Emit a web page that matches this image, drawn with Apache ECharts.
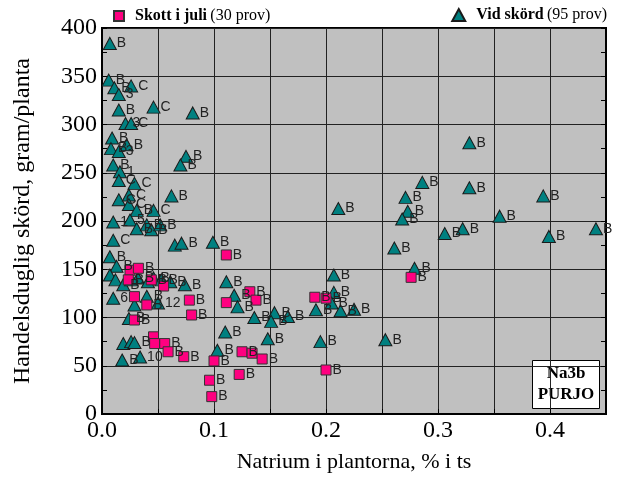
<!DOCTYPE html>
<html>
<head>
<meta charset="utf-8">
<script src="https://cdn.jsdelivr.net/npm/echarts@6/dist/echarts.min.js"></script>
<style>
html,body{margin:0;padding:0;background:#fff;}
#chart{width:619px;height:479px;}
</style>
</head>
<body>
<div id="chart"></div>
<script>
// Skott i juli (squares): [Na %, yield g/plant]
const skottX = [0.025,0.0325,0.0235,0.044,0.055,0.029,0.040,0.078,0.080,0.029,0.111,0.046,0.047,0.056,0.059,0.073,0.100,0.125,0.134,0.143,0.096,0.1225,0.098,0.111,0.132,0.1375,0.190,0.200,0.200,0.276];
const skottY = [149,151,139,139,132.6,121.6,113,118,102.6,97.4,164.8,80,73,73,64.5,59.4,55,64.5,63,57,35,41,18,115.4,126.7,118,121,120,45.6,141.6];
const skottLabels = ['','B','B','B','','','B','B','B','B','B','','','B','B','B','B','B','','B','B','B','B','','B','B','B','B','B','B'];

// Vid skörd (triangles)
const skordX = [0.007,0.006,0.011,0.026,0.015,0.015,0.046,0.081,0.021,0.026,0.009,0.008,0.022,0.015,0.075,0.070,0.010,0.016,0.015,0.029,0.062,0.015,0.024,0.024,0.031,0.046,0.010,0.025,0.031,0.040,0.044,0.052,0.010,0.065,0.071,0.099,0.007,0.013,0.007,0.012,0.019,0.026,0.032,0.041,0.046,0.053,0.061,0.074,0.010,0.029,0.050,0.040,0.024,0.110,0.019,0.026,0.029,0.018,0.034,0.103,0.211,0.207,0.111,0.118,0.121,0.136,0.154,0.151,0.166,0.207,0.205,0.191,0.213,0.225,0.148,0.195,0.253,0.328,0.286,0.328,0.394,0.271,0.273,0.268,0.355,0.306,0.322,0.441,0.399,0.261,0.279];
const skordY = [384,346,338,340,331,315,318,312,301,301,286,275,279,272,267,258,258,251,242,239,226,222,227,217,211,211,199,201,192,196,191,196,180,175,177,178,163,153,144,139,134,139,141,137,141,139,137,134,120,113,115,122,99,85,73,75,74,56,59,66,213,144,137,123,111,100,105,96,101,126,115,108,107,108.5,78,75,77,281,240,234.5,226,224.5,210,202,205,187,192,192,184,172,151];
const skordLabels = ['B','B','B','C','3','B','C','B','3','C','B','B','B','3','B','B','B','1','C','C','B','C','C','C','B','C','1','5','B','B','B','B','C','','B','B','B','B','','','B','','B','','B','B','B','B','6','','12','B','B','B','','','B','B','10','B','B','B','B','B','B','B','B','B','B','B','B','B','B','B','B','B','B','B','B','B','B','B','B','B','B','B','B','B','B','B','B'];

const xTickLabels = ['0.0','0.1','0.2','0.3','0.4'];
const yTickLabels = ['0','50','100','150','200','250','300','350','400'];

const serif = '"Liberation Serif","Times New Roman",serif';
const sans = '"Liberation Sans",Arial,sans-serif';

function toData(xs, ys, ls){
  return xs.map((x,i)=>({value:[x, ys[i]], label:{formatter: ls[i] || ''}}));
}

const legendRich = {
  s:{width:6,fontSize:16},
  b:{fontFamily:serif,fontWeight:'bold',fontSize:16,color:'#000'},
  n:{fontFamily:serif,fontSize:16,color:'#000'}
};

const chart = echarts.init(document.getElementById('chart'), null, {renderer:'canvas'});
chart.setOption({
  animation:false,
  backgroundColor:'#fff',
  grid:{left:102,right:13,top:28,bottom:65,show:true,backgroundColor:'#c0c0c0',borderColor:'#000',borderWidth:2},
  legend:[
    {left:108,top:3,icon:'rect',itemWidth:10,itemHeight:10,data:['Skott i juli'],
     formatter:n=>'{s| }{b|'+n+'} {n|(30 prov)}',textStyle:{rich:legendRich}},
    {right:7,top:2,icon:'triangle',itemWidth:13,itemHeight:12,data:['Vid skörd'],
     formatter:n=>'{s| }{b|'+n+'} {n|(95 prov)}',textStyle:{rich:legendRich}}
  ],
  xAxis:{type:'value',min:0,max:0.45,interval:0.05,
    name:'Natrium i plantorna, % i ts',nameLocation:'middle',nameGap:37,
    nameTextStyle:{fontFamily:serif,fontSize:22,color:'#000'},
    axisLine:{show:true,lineStyle:{color:'#000',width:2}},
    splitLine:{show:true,lineStyle:{color:'#222',width:1}},
    axisTick:{show:true,inside:true,length:5,lineStyle:{color:'#000'}},
    axisLabel:{fontFamily:serif,fontSize:24,color:'#000',margin:5,
      formatter:v=>{const k=Math.round(v*20);return k%2===0?(xTickLabels[k/2]||''):'';}}
  },
  yAxis:[{type:'value',min:0,max:400,interval:50,
    name:'Handelsduglig skörd, gram/planta',nameLocation:'middle',nameGap:67,
    nameTextStyle:{fontFamily:serif,fontSize:24,color:'#000'},
    axisLine:{show:true,lineStyle:{color:'#000',width:2}},
    splitLine:{show:true,lineStyle:{color:'#222',width:1}},
    axisTick:{show:true,inside:true,length:5,lineStyle:{color:'#000'}},
    minorTick:{show:true,splitNumber:2,length:5,lineStyle:{color:'#000'}},
    axisLabel:{fontFamily:serif,fontSize:24,color:'#000',margin:5,
      formatter:v=>yTickLabels[Math.round(v/50)]}
  },{type:'value',min:0,max:400,interval:50,position:'right',
    axisLine:{show:true,lineStyle:{color:'#000',width:2}},splitLine:{show:false},
    axisTick:{show:true,inside:true,length:5,lineStyle:{color:'#000'}},
    minorTick:{show:true,splitNumber:2,length:5,lineStyle:{color:'#000'}},
    axisLabel:{show:false}}],
  graphic:[{type:'group',left:532,top:360,z:100,children:[
    {type:'rect',shape:{x:0,y:0,width:67,height:48},style:{fill:'#fff',stroke:'#000',lineWidth:1}},
    {type:'text',x:33.5,y:24,style:{text:'Na3b\nPURJO',fontFamily:serif,fontWeight:'bold',fontSize:17,lineHeight:21,align:'center',verticalAlign:'middle',fill:'#000'}}
  ]}],
  series:[
    {name:'Vid skörd',type:'scatter',symbol:'triangle',symbolSize:[13,12],
     itemStyle:{color:'#008080',borderColor:'#1a1a1a',borderWidth:1,opacity:1},
     label:{show:true,position:'right',distance:0,fontFamily:sans,fontSize:14,color:'#222'},
     data:toData(skordX,skordY,skordLabels)},
    {name:'Skott i juli',type:'scatter',symbol:'rect',symbolSize:10,
     itemStyle:{color:'#ff0080',borderColor:'#333',borderWidth:1,opacity:1},
     label:{show:true,position:'right',distance:1,fontFamily:sans,fontSize:14,color:'#222'},
     data:toData(skottX,skottY,skottLabels)}
  ]
});
</script>
</body>
</html>
